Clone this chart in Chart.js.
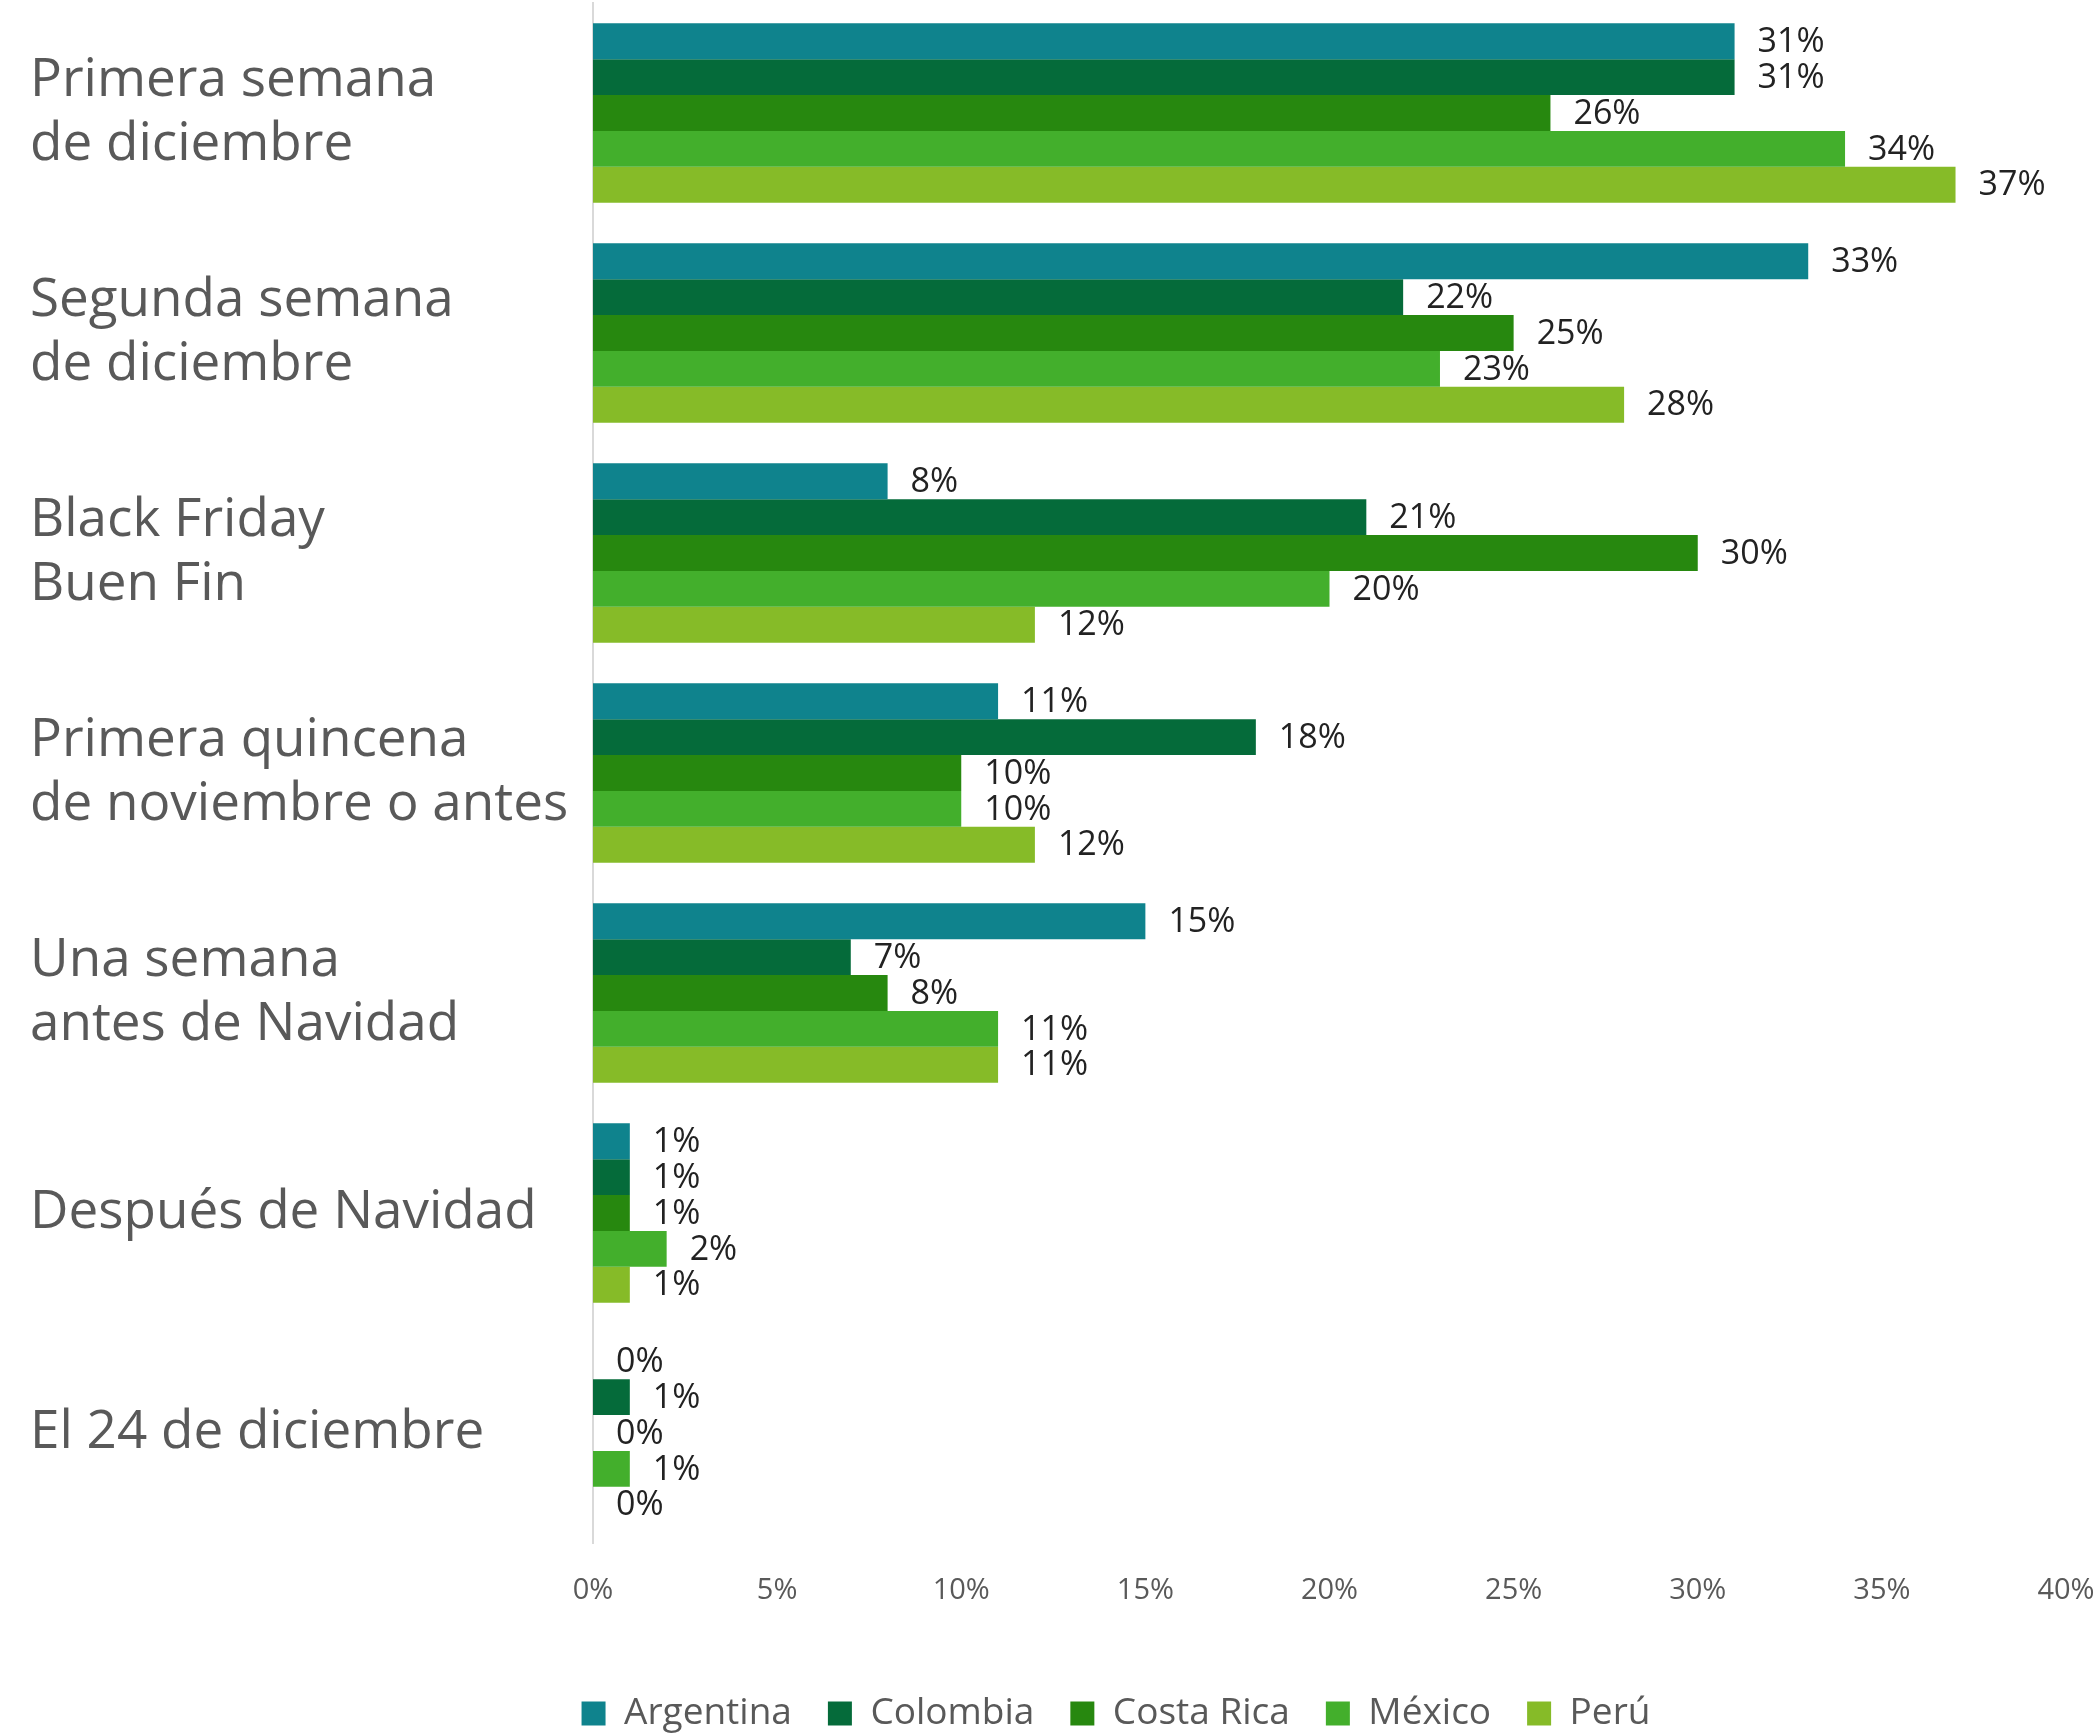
<!DOCTYPE html>
<html>
<head>
<meta charset="utf-8">
<script src="https://cdn.jsdelivr.net/npm/chart.js@4.4.1/dist/chart.umd.min.js"></script>
<style>
  html, body { margin: 0; padding: 0; background: #fff; }
  #wrap { width: 2100px; height: 1734px; }
</style>
</head>
<body>
<div id="wrap"><canvas id="chart" width="2100" height="1734"></canvas></div>
<script>
// Categories (top to bottom)
const categories = [
    ['Primera semana', 'de diciembre'],
    ['Segunda semana', 'de diciembre'],
    ['Black Friday', 'Buen Fin'],
    ['Primera quincena', 'de noviembre o antes'],
    ['Una semana', 'antes de Navidad'],
    'Después de Navidad',
    'El 24 de diciembre'
];

// Series values (%)
const argentina = [31, 33, 8, 11, 15, 1, 0];
const colombia  = [31, 22, 21, 18, 7, 1, 1];
const costaRica = [26, 25, 30, 10, 8, 1, 0];
const mexico    = [34, 23, 20, 10, 11, 2, 1];
const peru      = [37, 28, 12, 12, 11, 1, 0];

const seriesNames = ['Argentina', 'Colombia', 'Costa Rica', 'México', 'Perú'];
const seriesColors = ['#0f838d', '#056b3a', '#27880f', '#43af2c', '#86bb28'];

const xTicks = [0, 5, 10, 15, 20, 25, 30, 35, 40];

const FONT = "'Open Sans', 'Noto Sans', sans-serif";

// value labels at the end of each bar
const valueLabels = {
    id: 'valueLabels',
    afterDatasetsDraw(chart) {
        const ctx = chart.ctx;
        ctx.save();
        ctx.font = `34px ${FONT}`;
        ctx.fillStyle = '#222222';
        ctx.textAlign = 'left';
        ctx.textBaseline = 'middle';
        chart.data.datasets.forEach((ds, i) => {
            const meta = chart.getDatasetMeta(i);
            meta.data.forEach((bar, j) => {
                ctx.fillText(ds.data[j] + '%', bar.x + 23, bar.y + 1);
            });
        });
        ctx.restore();
    }
};

// nudge legend to sit under the plot like the original
const legendShift = {
    id: 'legendShift',
    afterLayout(chart) {
        const lg = chart.legend;
        if (!lg) return;
        lg.left += 68;
        lg.right += 68;
        lg.top += 8;
        lg.bottom += 8;
    }
};

const allSeries = [argentina, colombia, costaRica, mexico, peru];

new Chart(document.getElementById('chart'), {
    type: 'bar',
    data: {
        labels: categories,
        datasets: allSeries.map((data, i) => ({
            label: seriesNames[i],
            data: data,
            backgroundColor: seriesColors[i],
            borderWidth: 0,
            categoryPercentage: 0.816,
            barPercentage: 1
        }))
    },
    options: {
        indexAxis: 'y',
        responsive: false,
        animation: false,
        devicePixelRatio: 1,
        layout: { padding: { left: 30, right: 34, top: 3, bottom: 0 } },
        plugins: {
            tooltip: { enabled: false },
            legend: {
                position: 'bottom',
                labels: {
                    boxWidth: 24,
                    boxHeight: 24,
                    padding: 36,
                    color: '#595959',
                    font: { family: FONT, size: 37 }
                }
            }
        },
        scales: {
            x: {
                min: 0,
                max: 40,
                afterBuildTicks: (scale) => { scale.ticks = xTicks.map(v => ({ value: v })); },
                afterFit: (scale) => {
                    scale.height = 108;
                    scale.paddingLeft = 0;
                    scale.paddingRight = 0;
                },
                grid: { display: false, drawTicks: false },
                border: { display: false },
                ticks: {
                    padding: 30,
                    color: '#595959',
                    font: { family: FONT, size: 29 },
                    callback: (v) => v + '%'
                }
            },
            y: {
                grid: { display: false, drawTicks: false },
                border: { display: true, color: '#d9d9d9', width: 2 },
                afterFit: (scale) => {
                    scale.width = 563;
                    scale.paddingTop = 0;
                    scale.paddingBottom = 0;
                },
                ticks: {
                    crossAlign: 'far',
                    color: '#595959',
                    font: { family: FONT, size: 53, lineHeight: 1.21 }
                }
            }
        }
    },
    plugins: [valueLabels, legendShift]
});
</script>
</body>
</html>
